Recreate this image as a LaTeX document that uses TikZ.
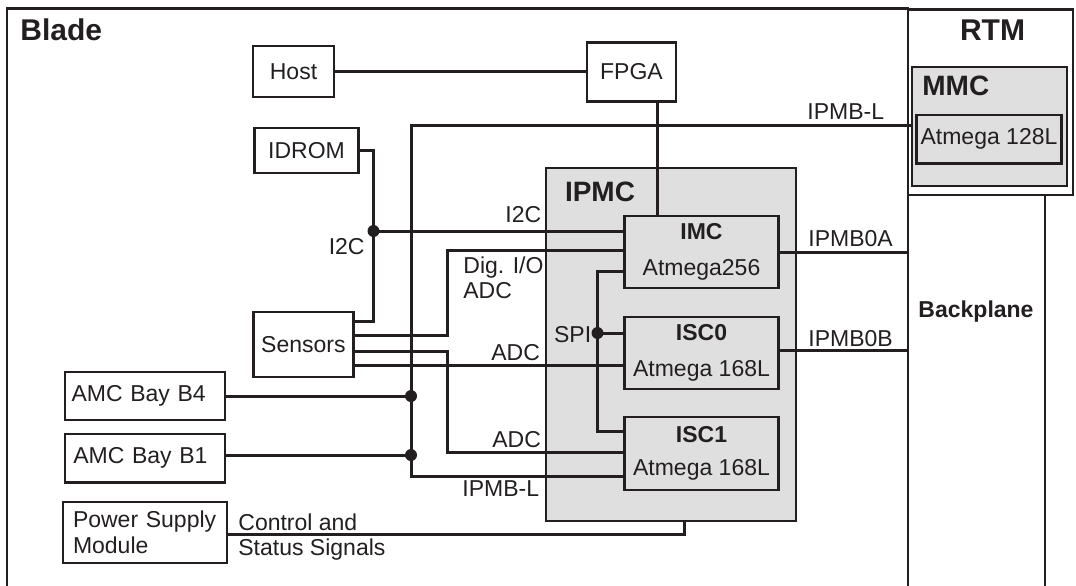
\documentclass[tikz,border=0pt]{standalone}
\usepackage{fontspec}
\setmainfont{Liberation Sans}
\definecolor{ink}{HTML}{231F20}
\definecolor{panelgray}{HTML}{DFDFDF}
\tikzset{
  box/.style={draw=ink, line width=1.1pt, inner sep=0pt, text=ink,
    font=\fontsize{11.5}{13.8}\selectfont},
  chip/.style={box, fill=panelgray, align=center},
  panel/.style={draw=ink, line width=1.1pt, fill=panelgray, inner sep=0pt},
  wire/.style={draw=ink, line width=1.5pt},
  frame/.style={draw=ink, line width=1.3pt},
  lbl/.style={inner sep=0pt, text=ink, font=\fontsize{11.5}{13.8}\selectfont},
  head/.style={inner sep=0pt, text=ink, font=\fontsize{15}{18}\selectfont\bfseries},
  subhead/.style={inner sep=0pt, text=ink, font=\fontsize{14}{17}\selectfont\bfseries},
}
\begin{document}
\begin{tikzpicture}[x=0.5pt,y=-0.5pt]
  \useasboundingbox (0,0) rectangle (1076,585);
  % blade, RTM and backplane outlines
  \draw[frame] (7,590) -- (7,8.5) -- (908,8.5) -- (908,590);
  \draw[frame] (908,9.5) rectangle (1073,195);
  \draw[frame] (1045,195) -- (1045,590);
  \node[head, anchor=base west] (blade) at (20,40) {Blade};
  \node[head, anchor=base] (rtm) at (992.5,40) {RTM};
  \node[lbl, font=\fontsize{11.5}{13.8}\selectfont\bfseries, anchor=base] (bplane) at (976,317) {Backplane};
  % grey controller panels
  \node[panel, minimum width=125pt, minimum height=176.6pt] (ipmc) at (671,344.4) {};
  \node[subhead, anchor=base west] (ipmclbl) at (564.6,201.7) {IPMC};
  \node[panel, minimum width=77.5pt, minimum height=59.5pt] (mmc) at (989.5,126.2) {};
  \node[subhead, anchor=base west] (mmclbl) at (922,95) {MMC};
  \node[chip, minimum width=72.5pt, minimum height=24.2pt] (atm128) at (989,139.2) {Atmega 128L};
  \node[chip, minimum width=77pt, minimum height=36.3pt] (imc) at (701.5,252) {\textbf{IMC}\\[4.5pt]Atmega256};
  \node[chip, minimum width=77pt, minimum height=36.3pt] (isc0) at (701.5,353) {\textbf{ISC0}\\[4.2pt]Atmega 168L};
  \node[chip, minimum width=77pt, minimum height=36.7pt] (isc1) at (701.5,453.3) {\textbf{ISC1}\\[2.7pt]Atmega 168L};
  % blade boxes
  \node[box, minimum width=40.5pt, minimum height=25.8pt] (host) at (293.5,71.5) {Host};
  \node[box, minimum width=44.5pt, minimum height=29.5pt] (fpga) at (631.5,72) {FPGA};
  \node[box, minimum width=52pt, minimum height=22.8pt] (idrom) at (306.5,150.5) {IDROM};
  \node[box, minimum width=50pt, minimum height=32.5pt] (sensors) at (303.4,344.2) {Sensors};
  \node[box, minimum width=80pt, minimum height=24.2pt, inner xsep=3.5pt, text width=73pt, align=left] (b4) at (144.6,395.8) {AMC Bay B4};
  \node[box, minimum width=80pt, minimum height=24.2pt, inner xsep=4pt, text width=72pt, align=left] (b1) at (145.3,458.2) {AMC Bay B1};
  \node[box, minimum width=82pt, minimum height=30.5pt, inner xsep=5pt, text width=72pt, align=left] (psm) at (145,532.2) {Power Supply\\[-1.1pt]Module};
  % bends and junctions
  \coordinate (i2cdot) at (373.5,231);
  \coordinate (bustop) at (411,125.5);
  \coordinate (busbot) at (411,476);
  \coordinate (b4dot) at (411,396);
  \coordinate (b1dot) at (411,455);
  \coordinate (digbend) at (447,250.5);
  \coordinate (adcbend) at (447.5,452.7);
  \coordinate (spitop) at (597.5,271.7);
  \coordinate (spidot) at (597.5,333);
  \coordinate (spibot) at (597.5,431.5);
  \coordinate (fpgadown) at (657,0);
  \coordinate (psmup) at (684,534.3);
  \coordinate (bp) at (908,0);
  \coordinate (s1) at (0,321);
  \coordinate (s2) at (0,335);
  \coordinate (s3) at (0,351);
  \coordinate (s4) at (0,365);
  % wires
  \draw[wire] (host.east) -- (host.east -| fpga.west);
  \draw[wire] (fpga.south -| fpgadown) -- (imc.north -| fpgadown);
  \draw[wire] (mmc.west |- bustop) -- (bustop) -- (busbot) -- (isc1.west |- busbot);
  \draw[wire] (idrom.east) -| (i2cdot) |- (sensors.east |- s1);
  \draw[wire] (i2cdot) -- (imc.west |- i2cdot);
  \draw[wire] (sensors.east |- s2) -| (digbend) -- (imc.west |- digbend);
  \draw[wire] (sensors.east |- s3) -| (adcbend) -- (isc1.west |- adcbend);
  \draw[wire] (sensors.east |- s4) -- (isc0.west |- s4);
  \draw[wire] (imc.west |- spitop) -- (spitop) -- (spibot) -- (isc1.west |- spibot);
  \draw[wire] (spidot) -- (isc0.west |- spidot);
  \draw[wire] (b4.east |- b4dot) -- (b4dot);
  \draw[wire] (b1.east |- b1dot) -- (b1dot);
  \draw[wire] (psm.east |- psmup) -- (psmup) -- (ipmc.south -| psmup);
  \draw[wire] (imc.east) -- (imc.east -| bp);
  \draw[wire] ([yshift=1.5pt]isc0.east) -- ([yshift=1.5pt]isc0.east -| bp);
  \foreach \p in {i2cdot,spidot,b4dot,b1dot}
    \fill[ink] (\p) circle (3pt);
  % signal labels
  \node[lbl, anchor=base west] (lipmbl) at (807,119.3) {IPMB-L};
  \node[lbl, anchor=base west] (li2ca) at (505,222.7) {I2C};
  \node[lbl, anchor=base east] (li2cb) at (365,254.3) {I2C};
  \node[lbl, anchor=base west] (ldig) at (463,273.3) {Dig. I/O};
  \node[lbl, anchor=base west] (ladca) at (463,298.3) {ADC};
  \node[lbl, anchor=base west] (lspi) at (553.7,342.7) {SPI};
  \node[lbl, anchor=base west] (ladcb) at (491,360) {ADC};
  \node[lbl, anchor=base west] (ladcc) at (492,447.3) {ADC};
  \node[lbl, anchor=base west] (lipmbb) at (462,496.7) {IPMB-L};
  \node[lbl, anchor=base west] (lipmba) at (808,246.7) {IPMB0A};
  \node[lbl, anchor=base west] (lipmbbb) at (808,346) {IPMB0B};
  \node[lbl, anchor=base west] (lctrl) at (238,530) {Control and};
  \node[lbl, anchor=base west] (lstat) at (238,555.7) {Status Signals};
\end{tikzpicture}
\end{document}
